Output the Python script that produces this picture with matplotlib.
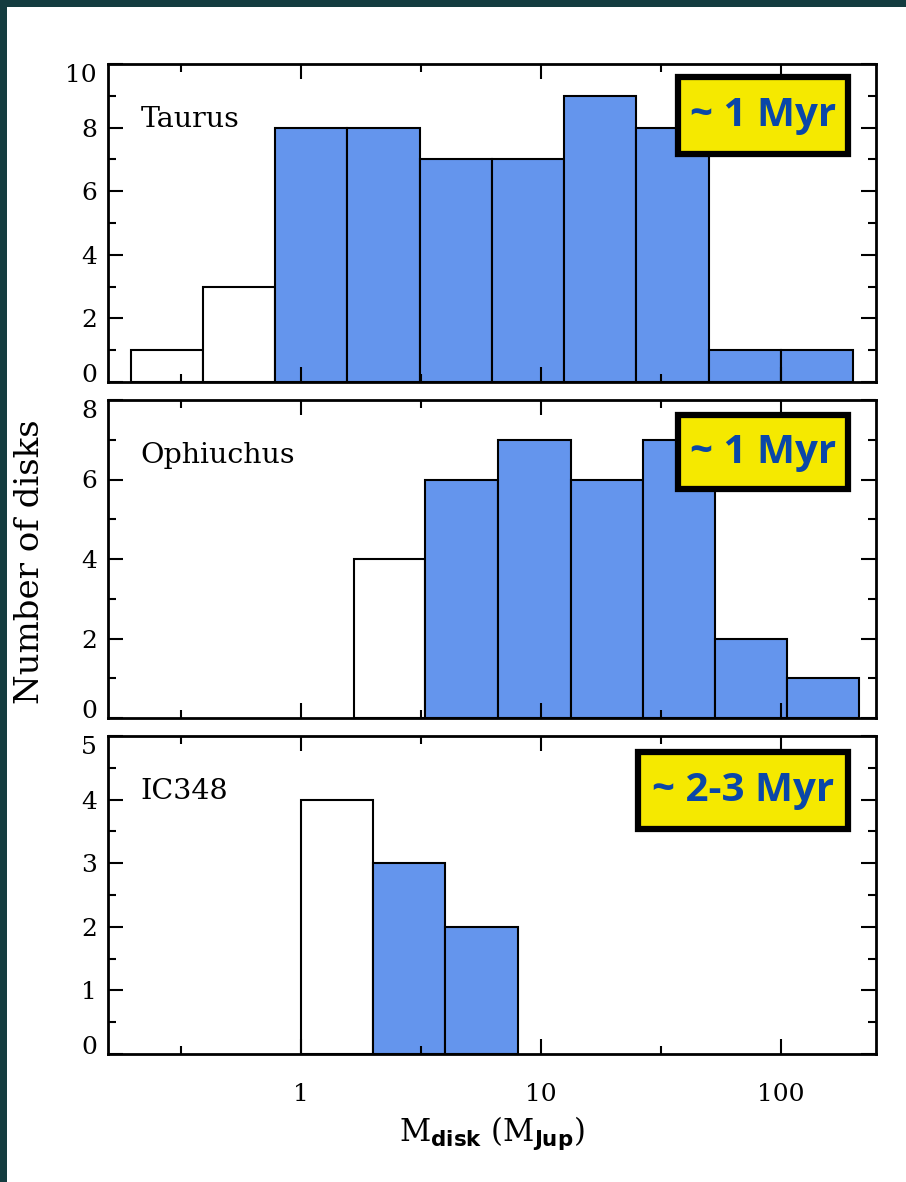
import numpy as np
import matplotlib
matplotlib.use('Agg')
import matplotlib.pyplot as plt
import matplotlib.ticker as mticker
from matplotlib.patches import Rectangle

plt.rcParams['font.family'] = 'DejaVu Serif'
plt.rcParams['mathtext.fontset'] = 'custom'
plt.rcParams['mathtext.rm'] = 'DejaVu Serif'
plt.rcParams['mathtext.bf'] = 'DejaVu Sans:bold'

# bin edges (M_Jup) and counts per region
taurus_edges = [0.195, 0.39, 0.78, 1.56, 3.125, 6.25, 12.5, 25, 50, 100, 200]
taurus_counts = [1, 3, 8, 8, 7, 7, 9, 8, 1, 1]
taurus_filled = [False, False, True, True, True, True, True, True, True, True]

oph_edges = [1.66, 3.3, 6.6, 13.3, 26.5, 53, 106, 212]
oph_counts = [4, 6, 7, 6, 7, 2, 1]
oph_filled = [False, True, True, True, True, True, True]

ic348_edges = [1, 2, 4, 8]
ic348_counts = [4, 3, 2]
ic348_filled = [False, True, True]

regions = ['Taurus', 'Ophiuchus', 'IC348']
ages = ['~ 1 Myr', '~ 1 Myr', '~ 2-3 Myr']
yticks = [[0, 2, 4, 6, 8, 10], [0, 2, 4, 6, 8], [0, 1, 2, 3, 4, 5]]
yminor = [1, 1, 0.5]

BLUE = '#6495ED'
W, H = 906, 1182

fig = plt.figure(figsize=(W / 100, H / 100), dpi=100)
fig.patch.set_facecolor('#143c40')
fig.patches.append(Rectangle((7 / W, 0), 1, 1 - 7 / H, transform=fig.transFigure,
                             facecolor='white', edgecolor='none', zorder=-10))

left, right = 108, 876
tops = [64, 400, 736]
ph = 318
# age box pixel extents (left, right, top, bottom) measured at line centres
boxes = [(678, 848, 77, 154), (678, 848, 415, 489), (638, 848, 752, 829)]

data = [(taurus_edges, taurus_counts, taurus_filled),
        (oph_edges, oph_counts, oph_filled),
        (ic348_edges, ic348_counts, ic348_filled)]

for i, (edges, counts, filled) in enumerate(data):
    top = tops[i]
    ax = fig.add_axes([left / W, 1 - (top + ph) / H, (right - left) / W, ph / H])
    ax.set_facecolor('white')
    edges = np.array(edges)
    colors = [BLUE if f else 'white' for f in filled]
    ax.bar(edges[:-1], counts, width=np.diff(edges), align='edge',
           color=colors, edgecolor='black', linewidth=1.5)
    ax.set_xscale('log')
    ax.set_xlim(0.157, 249)
    ax.set_ylim(0, yticks[i][-1])
    ax.xaxis.set_major_locator(mticker.FixedLocator([1, 10, 100]))
    ax.xaxis.set_minor_locator(mticker.FixedLocator([10 ** -0.5, 10 ** 0.5, 10 ** 1.5]))
    ax.xaxis.set_major_formatter(mticker.FixedFormatter(['1', '10', '100']))
    ax.xaxis.set_minor_formatter(mticker.NullFormatter())
    ax.yaxis.set_major_locator(mticker.FixedLocator(yticks[i]))
    ax.yaxis.set_minor_locator(mticker.MultipleLocator(yminor[i]))
    ax.tick_params(which='both', direction='in', top=True, right=True, width=1.5)
    ax.tick_params(which='major', length=11)
    ax.tick_params(which='minor', length=6)
    ax.tick_params(axis='y', labelsize=18, pad=8)
    ax.tick_params(axis='x', labelsize=18, pad=21)
    if i < 2:
        ax.tick_params(axis='x', labelbottom=False)
    for s in ax.spines.values():
        s.set_linewidth(2)

    # IDL style: end labels pulled inside the axis range
    yt = ax.yaxis.get_major_ticks()
    yt[0].label1.set_va('baseline')
    yt[-1].label1.set_va('top')

    ax.text(0.042, 0.824, regions[i], transform=ax.transAxes, fontsize=20.5,
            ha='left', va='center')

    bl, br, bt, bb = boxes[i]
    x0 = (bl - left) / (right - left)
    x1 = (br - left) / (right - left)
    y0 = 1 - (bb - top) / ph
    y1 = 1 - (bt - top) / ph
    ax.add_patch(Rectangle((x0, y0), x1 - x0, y1 - y0, transform=ax.transAxes,
                           facecolor='#f5e900', edgecolor='black', linewidth=4.5,
                           zorder=5, clip_on=False))
    ax.text((x0 + x1) / 2, (y0 + y1) / 2, ages[i], transform=ax.transAxes,
            fontsize=29, fontweight='bold', family='Open Sans', color='#0a47a8',
            ha='center', va='center', zorder=6)

    if i == 2:
        ax.set_xlabel(r'M$_{\mathbf{disk}}$ (M$_{\mathbf{Jup}}$)', fontsize=22, labelpad=6)

fig.text(30 / W, 1 - 562 / H, 'Number of disks', rotation=90, fontsize=24.5,
         ha='center', va='center')

fig.savefig('out.png', dpi=100, facecolor=fig.get_facecolor())
